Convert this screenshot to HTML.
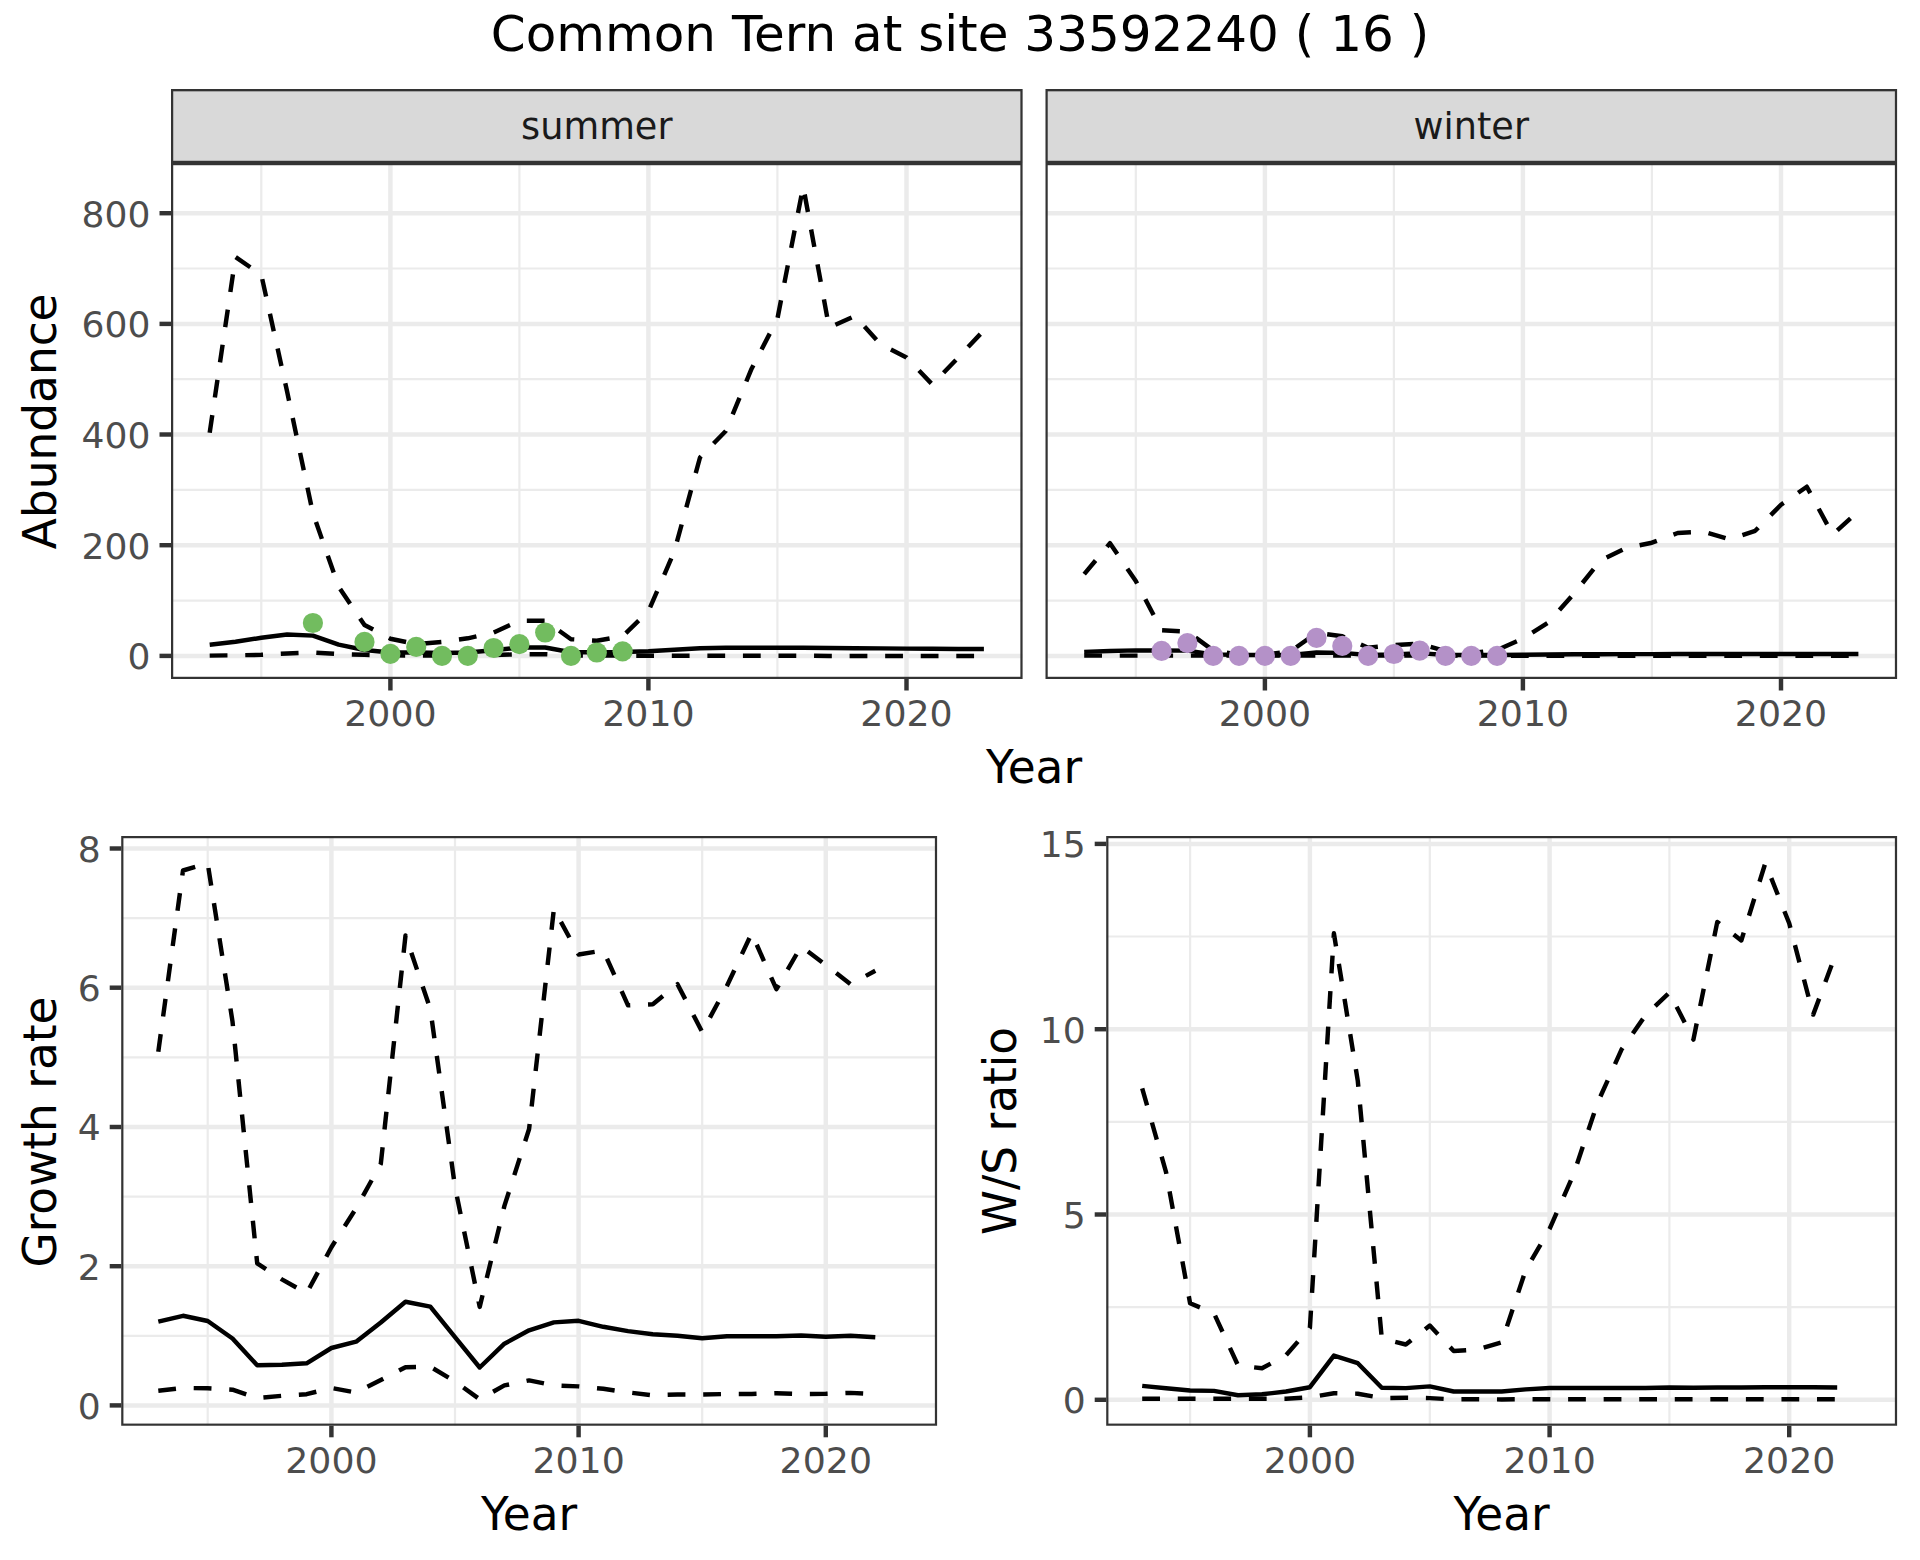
<!DOCTYPE html>
<html lang="en"><head><meta charset="utf-8"><title>Common Tern at site 33592240</title>
<style>
html,body{margin:0;padding:0;background:#fff}
body{width:1920px;height:1560px;overflow:hidden}
svg{display:block}
text{font-family:"DejaVu Sans","Liberation Sans",sans-serif}
.ti{font-size:50px;fill:#000}
.st{font-size:36.67px;fill:#1A1A1A}
.at{font-size:36.1px;fill:#4D4D4D}
.atx{font-size:36.3px;fill:#4D4D4D}
.ax{font-size:45.4px;fill:#000}
</style></head><body>
<svg width="1920" height="1560" viewBox="0 0 1920 1560">
<rect width="1920" height="1560" fill="#fff"/>
<text x="960" y="51.3" text-anchor="middle" class="ti">Common Tern at site 33592240 ( 16 )</text>
<clipPath id="sp0"><rect x="171.0" y="89.1" width="851.6" height="73.9"/></clipPath>
<rect x="171.0" y="89.1" width="851.6" height="73.9" fill="#D9D9D9" stroke="#333333" stroke-width="4.45" clip-path="url(#sp0)"/>
<text x="596.8" y="139.1" text-anchor="middle" class="st">summer</text>
<clipPath id="sp1"><rect x="1045.5" y="89.1" width="851.6" height="73.9"/></clipPath>
<rect x="1045.5" y="89.1" width="851.6" height="73.9" fill="#D9D9D9" stroke="#333333" stroke-width="4.45" clip-path="url(#sp1)"/>
<text x="1471.3" y="139.1" text-anchor="middle" class="st">winter</text>
<clipPath id="cp1"><rect x="171.0" y="163.0" width="851.6" height="516.0"/></clipPath>
<g clip-path="url(#cp1)">
<rect x="171.0" y="163.0" width="851.6" height="516.0" fill="#fff"/>
<line x1="171.0" x2="1022.6" y1="600.6" y2="600.6" stroke="#EBEBEB" stroke-width="2.22"/>
<line x1="171.0" x2="1022.6" y1="489.9" y2="489.9" stroke="#EBEBEB" stroke-width="2.22"/>
<line x1="171.0" x2="1022.6" y1="379.2" y2="379.2" stroke="#EBEBEB" stroke-width="2.22"/>
<line x1="171.0" x2="1022.6" y1="268.5" y2="268.5" stroke="#EBEBEB" stroke-width="2.22"/>
<line x1="261.3" x2="261.3" y1="163.0" y2="679.0" stroke="#EBEBEB" stroke-width="2.22"/>
<line x1="519.4" x2="519.4" y1="163.0" y2="679.0" stroke="#EBEBEB" stroke-width="2.22"/>
<line x1="777.4" x2="777.4" y1="163.0" y2="679.0" stroke="#EBEBEB" stroke-width="2.22"/>
<line x1="171.0" x2="1022.6" y1="655.9" y2="655.9" stroke="#EBEBEB" stroke-width="4.45"/>
<line x1="171.0" x2="1022.6" y1="545.2" y2="545.2" stroke="#EBEBEB" stroke-width="4.45"/>
<line x1="171.0" x2="1022.6" y1="434.5" y2="434.5" stroke="#EBEBEB" stroke-width="4.45"/>
<line x1="171.0" x2="1022.6" y1="323.9" y2="323.9" stroke="#EBEBEB" stroke-width="4.45"/>
<line x1="171.0" x2="1022.6" y1="213.2" y2="213.2" stroke="#EBEBEB" stroke-width="4.45"/>
<line x1="390.4" x2="390.4" y1="163.0" y2="679.0" stroke="#EBEBEB" stroke-width="4.45"/>
<line x1="648.4" x2="648.4" y1="163.0" y2="679.0" stroke="#EBEBEB" stroke-width="4.45"/>
<line x1="906.5" x2="906.5" y1="163.0" y2="679.0" stroke="#EBEBEB" stroke-width="4.45"/>
<polyline points="209.7,644.7 235.5,641.7 261.3,637.8 287.1,634.5 312.9,635.6 338.7,644.6 364.5,650.0 390.4,652.5 416.2,652.5 442.0,653.0 467.8,652.5 493.6,650.3 519.4,647.5 545.2,647.5 571.0,652.2 596.8,652.2 622.6,652.0 648.4,651.2 674.2,649.7 700.0,648.3 725.8,647.8 751.6,647.7 777.4,647.7 803.2,647.8 829.1,648.0 854.9,648.2 880.7,648.4 906.5,648.6 932.3,648.8 958.1,648.9 983.9,649.0" fill="none" stroke="#000" stroke-width="4.45" stroke-linejoin="round"/>
<polyline points="209.7,655.6 235.5,655.3 261.3,654.8 287.1,653.5 312.9,652.5 338.7,654.1 364.5,654.8 390.4,655.4 416.2,655.5 442.0,655.6 467.8,655.5 493.6,655.0 519.4,654.3 545.2,654.2 571.0,655.5 596.8,655.6 622.6,655.6 648.4,655.7 674.2,655.8 700.0,655.8 725.8,655.8 751.6,655.8 777.4,655.8 803.2,655.8 829.1,655.9 854.9,655.9 880.7,655.9 906.5,655.9 932.3,655.9 958.1,655.9 983.9,655.9" fill="none" stroke="#000" stroke-width="4.45" stroke-linejoin="round" stroke-dasharray="17.78 17.78"/>
<polyline points="209.7,432.7 235.5,257.0 261.3,274.8 287.1,391.5 312.9,513.3 338.7,586.7 364.5,625.0 390.4,638.7 416.2,644.2 442.0,642.0 467.8,638.3 493.6,632.5 519.4,620.8 545.2,620.8 571.0,639.2 596.8,640.8 622.6,636.2 648.4,611.3 674.2,551.7 700.0,457.5 725.8,431.0 751.6,368.7 777.4,318.8 803.2,186.3 829.1,327.6 854.9,316.0 880.7,344.3 906.5,357.5 932.3,384.5 958.1,357.7 983.9,330.3" fill="none" stroke="#000" stroke-width="4.45" stroke-linejoin="round" stroke-dasharray="17.78 17.78"/>
<circle cx="312.9" cy="623.0" r="10.1" fill="#72BC5F"/>
<circle cx="364.5" cy="641.9" r="10.1" fill="#72BC5F"/>
<circle cx="390.4" cy="653.8" r="10.1" fill="#72BC5F"/>
<circle cx="416.2" cy="646.9" r="10.1" fill="#72BC5F"/>
<circle cx="442.0" cy="655.8" r="10.1" fill="#72BC5F"/>
<circle cx="467.8" cy="655.8" r="10.1" fill="#72BC5F"/>
<circle cx="493.6" cy="648.0" r="10.1" fill="#72BC5F"/>
<circle cx="519.4" cy="644.2" r="10.1" fill="#72BC5F"/>
<circle cx="545.2" cy="632.5" r="10.1" fill="#72BC5F"/>
<circle cx="571.0" cy="655.8" r="10.1" fill="#72BC5F"/>
<circle cx="596.8" cy="652.5" r="10.1" fill="#72BC5F"/>
<circle cx="622.6" cy="651.3" r="10.1" fill="#72BC5F"/>
<rect x="171.0" y="163.0" width="851.6" height="516.0" fill="none" stroke="#333333" stroke-width="4.45"/>
</g>
<line x1="390.4" x2="390.4" y1="679.0" y2="690.5" stroke="#333333" stroke-width="4.45"/>
<text x="390.4" y="725.8" text-anchor="middle" class="atx">2000</text>
<line x1="648.4" x2="648.4" y1="679.0" y2="690.5" stroke="#333333" stroke-width="4.45"/>
<text x="648.4" y="725.8" text-anchor="middle" class="atx">2010</text>
<line x1="906.5" x2="906.5" y1="679.0" y2="690.5" stroke="#333333" stroke-width="4.45"/>
<text x="906.5" y="725.8" text-anchor="middle" class="atx">2020</text>
<line x1="159.5" x2="171.0" y1="655.9" y2="655.9" stroke="#333333" stroke-width="4.45"/>
<text x="150.4" y="669.3" text-anchor="end" class="at">0</text>
<line x1="159.5" x2="171.0" y1="545.2" y2="545.2" stroke="#333333" stroke-width="4.45"/>
<text x="150.4" y="558.6" text-anchor="end" class="at">200</text>
<line x1="159.5" x2="171.0" y1="434.5" y2="434.5" stroke="#333333" stroke-width="4.45"/>
<text x="150.4" y="447.9" text-anchor="end" class="at">400</text>
<line x1="159.5" x2="171.0" y1="323.9" y2="323.9" stroke="#333333" stroke-width="4.45"/>
<text x="150.4" y="337.3" text-anchor="end" class="at">600</text>
<line x1="159.5" x2="171.0" y1="213.2" y2="213.2" stroke="#333333" stroke-width="4.45"/>
<text x="150.4" y="226.6" text-anchor="end" class="at">800</text>
<clipPath id="cp2"><rect x="1045.5" y="163.0" width="851.6" height="516.0"/></clipPath>
<g clip-path="url(#cp2)">
<rect x="1045.5" y="163.0" width="851.6" height="516.0" fill="#fff"/>
<line x1="1045.5" x2="1897.1" y1="600.6" y2="600.6" stroke="#EBEBEB" stroke-width="2.22"/>
<line x1="1045.5" x2="1897.1" y1="489.9" y2="489.9" stroke="#EBEBEB" stroke-width="2.22"/>
<line x1="1045.5" x2="1897.1" y1="379.2" y2="379.2" stroke="#EBEBEB" stroke-width="2.22"/>
<line x1="1045.5" x2="1897.1" y1="268.5" y2="268.5" stroke="#EBEBEB" stroke-width="2.22"/>
<line x1="1135.8" x2="1135.8" y1="163.0" y2="679.0" stroke="#EBEBEB" stroke-width="2.22"/>
<line x1="1393.9" x2="1393.9" y1="163.0" y2="679.0" stroke="#EBEBEB" stroke-width="2.22"/>
<line x1="1651.9" x2="1651.9" y1="163.0" y2="679.0" stroke="#EBEBEB" stroke-width="2.22"/>
<line x1="1045.5" x2="1897.1" y1="655.9" y2="655.9" stroke="#EBEBEB" stroke-width="4.45"/>
<line x1="1045.5" x2="1897.1" y1="545.2" y2="545.2" stroke="#EBEBEB" stroke-width="4.45"/>
<line x1="1045.5" x2="1897.1" y1="434.5" y2="434.5" stroke="#EBEBEB" stroke-width="4.45"/>
<line x1="1045.5" x2="1897.1" y1="323.9" y2="323.9" stroke="#EBEBEB" stroke-width="4.45"/>
<line x1="1045.5" x2="1897.1" y1="213.2" y2="213.2" stroke="#EBEBEB" stroke-width="4.45"/>
<line x1="1264.9" x2="1264.9" y1="163.0" y2="679.0" stroke="#EBEBEB" stroke-width="4.45"/>
<line x1="1522.9" x2="1522.9" y1="163.0" y2="679.0" stroke="#EBEBEB" stroke-width="4.45"/>
<line x1="1781.0" x2="1781.0" y1="163.0" y2="679.0" stroke="#EBEBEB" stroke-width="4.45"/>
<polyline points="1084.2,651.9 1110.0,651.0 1135.8,650.4 1161.6,650.4 1187.4,650.6 1213.2,654.4 1239.0,655.0 1264.9,655.0 1290.7,655.0 1316.5,652.5 1342.3,652.9 1368.1,655.0 1393.9,654.4 1419.7,653.1 1445.5,655.0 1471.3,655.0 1497.1,655.0 1522.9,654.7 1548.7,654.5 1574.5,654.3 1600.3,654.2 1626.1,654.1 1651.9,654.1 1677.7,654.0 1703.6,654.0 1729.4,654.0 1755.2,654.0 1781.0,654.0 1806.8,654.0 1832.6,654.0 1858.4,654.0" fill="none" stroke="#000" stroke-width="4.45" stroke-linejoin="round"/>
<polyline points="1084.2,655.6 1110.0,655.6 1135.8,655.6 1161.6,655.6 1187.4,655.6 1213.2,655.6 1239.0,655.6 1264.9,655.6 1290.7,655.6 1316.5,655.6 1342.3,655.6 1368.1,655.6 1393.9,655.6 1419.7,655.6 1445.5,655.6 1471.3,655.6 1497.1,655.6 1522.9,655.8 1548.7,655.8 1574.5,655.8 1600.3,655.8 1626.1,655.8 1651.9,655.8 1677.7,655.8 1703.6,655.8 1729.4,655.8 1755.2,655.8 1781.0,655.8 1806.8,655.8 1832.6,655.8 1858.4,655.8" fill="none" stroke="#000" stroke-width="4.45" stroke-linejoin="round" stroke-dasharray="17.78 17.78"/>
<polyline points="1084.2,574.2 1110.0,543.2 1135.8,581.0 1161.6,630.3 1187.4,631.6 1213.2,650.5 1239.0,654.6 1264.9,654.6 1290.7,651.3 1316.5,632.9 1342.3,636.3 1368.1,647.8 1393.9,645.0 1419.7,643.8 1445.5,651.2 1471.3,653.0 1497.1,650.0 1522.9,638.5 1548.7,622.2 1574.5,593.0 1600.3,560.7 1626.1,548.0 1651.9,542.7 1677.7,533.0 1703.6,531.7 1729.4,539.4 1755.2,530.8 1781.0,504.7 1806.8,486.7 1832.6,534.5 1858.4,511.3" fill="none" stroke="#000" stroke-width="4.45" stroke-linejoin="round" stroke-dasharray="17.78 17.78"/>
<circle cx="1161.6" cy="650.9" r="10.1" fill="#B491C8"/>
<circle cx="1187.4" cy="643.1" r="10.1" fill="#B491C8"/>
<circle cx="1213.2" cy="655.9" r="10.1" fill="#B491C8"/>
<circle cx="1239.0" cy="655.9" r="10.1" fill="#B491C8"/>
<circle cx="1264.9" cy="655.9" r="10.1" fill="#B491C8"/>
<circle cx="1290.7" cy="655.9" r="10.1" fill="#B491C8"/>
<circle cx="1316.5" cy="637.9" r="10.1" fill="#B491C8"/>
<circle cx="1342.3" cy="645.9" r="10.1" fill="#B491C8"/>
<circle cx="1368.1" cy="655.9" r="10.1" fill="#B491C8"/>
<circle cx="1393.9" cy="654.0" r="10.1" fill="#B491C8"/>
<circle cx="1419.7" cy="650.6" r="10.1" fill="#B491C8"/>
<circle cx="1445.5" cy="655.9" r="10.1" fill="#B491C8"/>
<circle cx="1471.3" cy="655.9" r="10.1" fill="#B491C8"/>
<circle cx="1497.1" cy="655.9" r="10.1" fill="#B491C8"/>
<rect x="1045.5" y="163.0" width="851.6" height="516.0" fill="none" stroke="#333333" stroke-width="4.45"/>
</g>
<line x1="1264.9" x2="1264.9" y1="679.0" y2="690.5" stroke="#333333" stroke-width="4.45"/>
<text x="1264.9" y="725.8" text-anchor="middle" class="atx">2000</text>
<line x1="1522.9" x2="1522.9" y1="679.0" y2="690.5" stroke="#333333" stroke-width="4.45"/>
<text x="1522.9" y="725.8" text-anchor="middle" class="atx">2010</text>
<line x1="1781.0" x2="1781.0" y1="679.0" y2="690.5" stroke="#333333" stroke-width="4.45"/>
<text x="1781.0" y="725.8" text-anchor="middle" class="atx">2020</text>
<clipPath id="cp3"><rect x="121.2" y="836.0" width="815.9" height="589.8"/></clipPath>
<g clip-path="url(#cp3)">
<rect x="121.2" y="836.0" width="815.9" height="589.8" fill="#fff"/>
<line x1="121.2" x2="937.1" y1="1335.8" y2="1335.8" stroke="#EBEBEB" stroke-width="2.22"/>
<line x1="121.2" x2="937.1" y1="1196.6" y2="1196.6" stroke="#EBEBEB" stroke-width="2.22"/>
<line x1="121.2" x2="937.1" y1="1057.3" y2="1057.3" stroke="#EBEBEB" stroke-width="2.22"/>
<line x1="121.2" x2="937.1" y1="918.1" y2="918.1" stroke="#EBEBEB" stroke-width="2.22"/>
<line x1="207.7" x2="207.7" y1="836.0" y2="1425.8" stroke="#EBEBEB" stroke-width="2.22"/>
<line x1="455.0" x2="455.0" y1="836.0" y2="1425.8" stroke="#EBEBEB" stroke-width="2.22"/>
<line x1="702.2" x2="702.2" y1="836.0" y2="1425.8" stroke="#EBEBEB" stroke-width="2.22"/>
<line x1="121.2" x2="937.1" y1="1405.4" y2="1405.4" stroke="#EBEBEB" stroke-width="4.45"/>
<line x1="121.2" x2="937.1" y1="1266.2" y2="1266.2" stroke="#EBEBEB" stroke-width="4.45"/>
<line x1="121.2" x2="937.1" y1="1127.0" y2="1127.0" stroke="#EBEBEB" stroke-width="4.45"/>
<line x1="121.2" x2="937.1" y1="987.7" y2="987.7" stroke="#EBEBEB" stroke-width="4.45"/>
<line x1="121.2" x2="937.1" y1="848.5" y2="848.5" stroke="#EBEBEB" stroke-width="4.45"/>
<line x1="331.4" x2="331.4" y1="836.0" y2="1425.8" stroke="#EBEBEB" stroke-width="4.45"/>
<line x1="578.6" x2="578.6" y1="836.0" y2="1425.8" stroke="#EBEBEB" stroke-width="4.45"/>
<line x1="825.8" x2="825.8" y1="836.0" y2="1425.8" stroke="#EBEBEB" stroke-width="4.45"/>
<polyline points="158.3,1321.7 183.0,1315.8 207.7,1321.0 232.5,1338.5 257.2,1365.3 281.9,1364.7 306.6,1363.3 331.4,1348.0 356.1,1341.7 380.8,1322.5 405.5,1301.7 430.3,1306.6 455.0,1337.1 479.7,1367.5 504.4,1343.7 529.1,1330.3 553.9,1322.4 578.6,1320.8 603.3,1326.8 628.0,1331.1 652.8,1334.3 677.5,1335.8 702.2,1338.3 726.9,1336.3 751.7,1336.3 776.4,1336.3 801.1,1335.5 825.8,1336.7 850.6,1335.8 875.3,1337.2" fill="none" stroke="#000" stroke-width="4.45" stroke-linejoin="round"/>
<polyline points="158.3,1390.8 183.0,1388.0 207.7,1388.3 232.5,1389.7 257.2,1398.0 281.9,1395.8 306.6,1394.2 331.4,1388.0 356.1,1392.5 380.8,1380.0 405.5,1367.2 430.3,1366.7 455.0,1381.4 479.7,1399.3 504.4,1385.4 529.1,1380.4 553.9,1385.4 578.6,1386.4 603.3,1388.8 628.0,1392.4 652.8,1395.3 677.5,1394.5 702.2,1394.6 726.9,1394.0 751.7,1394.0 776.4,1393.2 801.1,1394.0 825.8,1393.8 850.6,1392.9 875.3,1394.2" fill="none" stroke="#000" stroke-width="4.45" stroke-linejoin="round" stroke-dasharray="17.78 17.78"/>
<polyline points="158.3,1051.7 183.0,870.5 207.7,863.3 232.5,1021.5 257.2,1263.3 281.9,1279.4 306.6,1293.3 331.4,1247.2 356.1,1208.3 380.8,1163.8 405.5,935.5 430.3,1009.0 455.0,1187.0 479.7,1306.9 504.4,1205.9 529.1,1129.0 553.9,909.0 578.6,954.5 603.3,950.5 628.0,1005.3 652.8,1004.2 677.5,984.2 702.2,1032.0 726.9,986.0 751.7,933.3 776.4,989.2 801.1,946.3 825.8,965.0 850.6,984.2 875.3,970.8" fill="none" stroke="#000" stroke-width="4.45" stroke-linejoin="round" stroke-dasharray="17.78 17.78"/>
<rect x="121.2" y="836.0" width="815.9" height="589.8" fill="none" stroke="#333333" stroke-width="4.45"/>
</g>
<line x1="331.4" x2="331.4" y1="1425.8" y2="1437.3" stroke="#333333" stroke-width="4.45"/>
<text x="331.4" y="1472.6" text-anchor="middle" class="atx">2000</text>
<line x1="578.6" x2="578.6" y1="1425.8" y2="1437.3" stroke="#333333" stroke-width="4.45"/>
<text x="578.6" y="1472.6" text-anchor="middle" class="atx">2010</text>
<line x1="825.8" x2="825.8" y1="1425.8" y2="1437.3" stroke="#333333" stroke-width="4.45"/>
<text x="825.8" y="1472.6" text-anchor="middle" class="atx">2020</text>
<line x1="109.7" x2="121.2" y1="1405.4" y2="1405.4" stroke="#333333" stroke-width="4.45"/>
<text x="100.6" y="1418.8" text-anchor="end" class="at">0</text>
<line x1="109.7" x2="121.2" y1="1266.2" y2="1266.2" stroke="#333333" stroke-width="4.45"/>
<text x="100.6" y="1279.6" text-anchor="end" class="at">2</text>
<line x1="109.7" x2="121.2" y1="1127.0" y2="1127.0" stroke="#333333" stroke-width="4.45"/>
<text x="100.6" y="1140.4" text-anchor="end" class="at">4</text>
<line x1="109.7" x2="121.2" y1="987.7" y2="987.7" stroke="#333333" stroke-width="4.45"/>
<text x="100.6" y="1001.1" text-anchor="end" class="at">6</text>
<line x1="109.7" x2="121.2" y1="848.5" y2="848.5" stroke="#333333" stroke-width="4.45"/>
<text x="100.6" y="861.9" text-anchor="end" class="at">8</text>
<clipPath id="cp4"><rect x="1106.2" y="836.0" width="790.9" height="589.8"/></clipPath>
<g clip-path="url(#cp4)">
<rect x="1106.2" y="836.0" width="790.9" height="589.8" fill="#fff"/>
<line x1="1106.2" x2="1897.1" y1="1307.1" y2="1307.1" stroke="#EBEBEB" stroke-width="2.22"/>
<line x1="1106.2" x2="1897.1" y1="1121.8" y2="1121.8" stroke="#EBEBEB" stroke-width="2.22"/>
<line x1="1106.2" x2="1897.1" y1="936.5" y2="936.5" stroke="#EBEBEB" stroke-width="2.22"/>
<line x1="1190.1" x2="1190.1" y1="836.0" y2="1425.8" stroke="#EBEBEB" stroke-width="2.22"/>
<line x1="1429.8" x2="1429.8" y1="836.0" y2="1425.8" stroke="#EBEBEB" stroke-width="2.22"/>
<line x1="1669.4" x2="1669.4" y1="836.0" y2="1425.8" stroke="#EBEBEB" stroke-width="2.22"/>
<line x1="1106.2" x2="1897.1" y1="1399.8" y2="1399.8" stroke="#EBEBEB" stroke-width="4.45"/>
<line x1="1106.2" x2="1897.1" y1="1214.5" y2="1214.5" stroke="#EBEBEB" stroke-width="4.45"/>
<line x1="1106.2" x2="1897.1" y1="1029.2" y2="1029.2" stroke="#EBEBEB" stroke-width="4.45"/>
<line x1="1106.2" x2="1897.1" y1="843.9" y2="843.9" stroke="#EBEBEB" stroke-width="4.45"/>
<line x1="1309.9" x2="1309.9" y1="836.0" y2="1425.8" stroke="#EBEBEB" stroke-width="4.45"/>
<line x1="1549.6" x2="1549.6" y1="836.0" y2="1425.8" stroke="#EBEBEB" stroke-width="4.45"/>
<line x1="1789.2" x2="1789.2" y1="836.0" y2="1425.8" stroke="#EBEBEB" stroke-width="4.45"/>
<polyline points="1142.2,1385.9 1166.1,1388.3 1190.1,1390.5 1214.0,1390.9 1238.0,1395.2 1262.0,1394.3 1286.0,1391.5 1309.9,1387.2 1333.9,1355.6 1357.8,1363.2 1381.8,1387.7 1405.8,1388.1 1429.8,1386.4 1453.7,1391.5 1477.7,1391.5 1501.7,1391.5 1525.6,1389.4 1549.6,1388.0 1573.5,1388.0 1597.5,1388.0 1621.5,1388.0 1645.4,1388.0 1669.4,1387.5 1693.4,1387.8 1717.3,1387.5 1741.3,1387.4 1765.3,1387.2 1789.2,1387.2 1813.2,1387.3 1837.2,1387.4" fill="none" stroke="#000" stroke-width="4.45" stroke-linejoin="round"/>
<polyline points="1142.2,1398.7 1166.1,1398.7 1190.1,1398.7 1214.0,1398.7 1238.0,1398.7 1262.0,1398.7 1286.0,1398.7 1309.9,1397.4 1333.9,1393.2 1357.8,1393.7 1381.8,1398.0 1405.8,1397.8 1429.8,1398.1 1453.7,1399.4 1477.7,1399.2 1501.7,1399.4 1525.6,1399.2 1549.6,1399.3 1573.5,1399.3 1597.5,1399.3 1621.5,1399.3 1645.4,1399.3 1669.4,1399.3 1693.4,1399.3 1717.3,1399.3 1741.3,1399.3 1765.3,1399.3 1789.2,1399.3 1813.2,1399.3 1837.2,1399.3" fill="none" stroke="#000" stroke-width="4.45" stroke-linejoin="round" stroke-dasharray="17.78 17.78"/>
<polyline points="1142.2,1088.3 1166.1,1172.4 1190.1,1303.3 1214.0,1313.3 1238.0,1365.4 1262.0,1368.3 1286.0,1355.3 1309.9,1327.8 1333.9,933.3 1357.8,1081.0 1381.8,1338.5 1405.8,1344.5 1429.8,1325.5 1453.7,1351.0 1477.7,1349.4 1501.7,1342.3 1525.6,1270.3 1549.6,1228.9 1573.5,1174.4 1597.5,1103.0 1621.5,1049.6 1645.4,1015.4 1669.4,992.5 1693.4,1039.6 1717.3,921.9 1741.3,940.5 1765.3,863.2 1789.2,923.3 1813.2,1014.6 1837.2,950.2" fill="none" stroke="#000" stroke-width="4.45" stroke-linejoin="round" stroke-dasharray="17.78 17.78"/>
<rect x="1106.2" y="836.0" width="790.9" height="589.8" fill="none" stroke="#333333" stroke-width="4.45"/>
</g>
<line x1="1309.9" x2="1309.9" y1="1425.8" y2="1437.3" stroke="#333333" stroke-width="4.45"/>
<text x="1309.9" y="1472.6" text-anchor="middle" class="atx">2000</text>
<line x1="1549.6" x2="1549.6" y1="1425.8" y2="1437.3" stroke="#333333" stroke-width="4.45"/>
<text x="1549.6" y="1472.6" text-anchor="middle" class="atx">2010</text>
<line x1="1789.2" x2="1789.2" y1="1425.8" y2="1437.3" stroke="#333333" stroke-width="4.45"/>
<text x="1789.2" y="1472.6" text-anchor="middle" class="atx">2020</text>
<line x1="1094.7" x2="1106.2" y1="1399.8" y2="1399.8" stroke="#333333" stroke-width="4.45"/>
<text x="1085.6" y="1413.2" text-anchor="end" class="at">0</text>
<line x1="1094.7" x2="1106.2" y1="1214.5" y2="1214.5" stroke="#333333" stroke-width="4.45"/>
<text x="1085.6" y="1227.9" text-anchor="end" class="at">5</text>
<line x1="1094.7" x2="1106.2" y1="1029.2" y2="1029.2" stroke="#333333" stroke-width="4.45"/>
<text x="1085.6" y="1042.6" text-anchor="end" class="at">10</text>
<line x1="1094.7" x2="1106.2" y1="843.9" y2="843.9" stroke="#333333" stroke-width="4.45"/>
<text x="1085.6" y="857.3" text-anchor="end" class="at">15</text>
<text x="1034" y="783" text-anchor="middle" class="ax">Year</text>
<text x="529.1" y="1530" text-anchor="middle" class="ax">Year</text>
<text x="1501.6" y="1530" text-anchor="middle" class="ax">Year</text>
<text transform="translate(55.6,421.3) rotate(-90)" text-anchor="middle" class="ax">Abundance</text>
<text transform="translate(55.5,1132) rotate(-90)" text-anchor="middle" class="ax">Growth rate</text>
<text transform="translate(1016,1130.9) rotate(-90)" text-anchor="middle" class="ax">W/S ratio</text>
</svg>
</body></html>
